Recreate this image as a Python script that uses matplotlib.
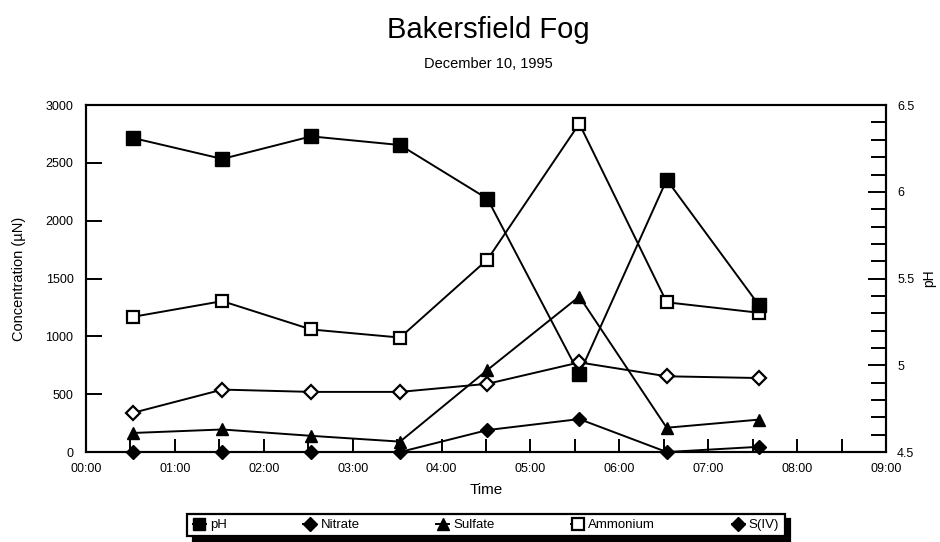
import matplotlib
matplotlib.use("Agg")
import matplotlib.pyplot as plt
from matplotlib.lines import Line2D
from matplotlib.ticker import MultipleLocator, FuncFormatter

plt.rcParams['font.family'] = ['Liberation Sans', 'DejaVu Sans']

# sample times (hh:mm) and measured values
times = ["00:32", "01:32", "02:32", "03:32", "04:31", "05:33", "06:32", "07:34"]
ph = [6.31, 6.19, 6.32, 6.27, 5.96, 4.95, 6.07, 5.35]
nitrate = [340, 540, 520, 520, 590, 775, 655, 640]
sulfate = [165, 195, 140, 90, 710, 1345, 210, 280]
ammonium = [1170, 1305, 1060, 990, 1665, 2840, 1295, 1205]
s_iv = [0, 0, 0, 0, 190, 285, 0, 45]

hours = [int(t[:2]) + int(t[3:]) / 60 for t in times]

fig = plt.figure(figsize=(9.4, 5.42), dpi=100)
ax = fig.add_axes([0.0915, 0.166, 0.851, 0.640])
ax2 = ax.twinx()

lw = 1.4
ax.plot(hours, nitrate, color='k', lw=lw, marker='D', ms=7, mfc='white', mec='k', mew=1.6, clip_on=False, zorder=3)
ax.plot(hours, sulfate, color='k', lw=lw, marker='^', ms=9, mfc='k', mec='k', clip_on=False, zorder=3)
ax.plot(hours, ammonium, color='k', lw=lw, marker='s', ms=8.5, mfc='white', mec='k', mew=1.6, clip_on=False, zorder=3)
ax.plot(hours, s_iv, color='k', lw=lw, marker='D', ms=7, mfc='k', mec='k', clip_on=False, zorder=3)
ax2.plot(hours, ph, color='k', lw=lw, marker='s', ms=9.5, mfc='k', mec='k', clip_on=False, zorder=3)

ax.set_xlim(0, 9)
ax.set_ylim(0, 3000)
ax2.set_ylim(4.5, 6.5)

ax.xaxis.set_major_locator(MultipleLocator(1))
ax.xaxis.set_minor_locator(MultipleLocator(0.5))
ax.xaxis.set_major_formatter(FuncFormatter(lambda v, p: f"{int(round(v)):02d}:00"))
ax.yaxis.set_major_locator(MultipleLocator(500))
ax2.yaxis.set_major_locator(MultipleLocator(0.5))
ax2.yaxis.set_minor_locator(MultipleLocator(0.1))
ax2.yaxis.set_major_formatter(FuncFormatter(lambda v, p: f"{v:g}"))

ax.tick_params(axis='x', which='both', direction='in', length=9.4, width=1.4, labelsize=9, pad=8, top=False)
ax.tick_params(axis='y', which='major', direction='in', length=11.5, width=1.4, labelsize=9, pad=9, right=False)
ax2.tick_params(axis='y', which='major', direction='in', length=13, width=1.4, labelsize=9, pad=8)
ax2.tick_params(axis='y', which='minor', direction='in', length=11, width=1.4)

for a in (ax, ax2):
    for s in a.spines.values():
        s.set_linewidth(1.5)

ax.set_xlabel("Time", fontsize=11, labelpad=6)
ax.set_ylabel("Concentration (\u00b5N)", fontsize=10.5, labelpad=14)
ax2.set_ylabel("pH", fontsize=10, labelpad=6)

fig.text(0.520, 1 - 30 / 542, "Bakersfield Fog", ha='center', va='center', fontsize=21)
fig.text(0.520, 1 - 64 / 542, "December 10, 1995", ha='center', va='center', fontsize=10.5)

handles = [
    Line2D([], [], color='k', lw=lw, marker='s', ms=9, mfc='k'),
    Line2D([], [], color='k', lw=lw, marker='D', ms=7, mfc='k'),
    Line2D([], [], color='k', lw=lw, marker='^', ms=9, mfc='k'),
    Line2D([], [], color='k', lw=lw, marker='s', ms=8.5, mfc='white', mew=1.6),
    Line2D([], [], color='k', lw=lw, marker='D', ms=7, mfc='k'),
]
labels = ["pH", "Nitrate", "Sulfate", "Ammonium", "S(IV)"]
leg = fig.legend(handles, labels, loc='center', bbox_to_anchor=(486 / 940, 1 - 525 / 542),
                 ncol=5, fontsize=9.5, frameon=True, fancybox=False, handlelength=1.0,
                 handletextpad=0.3, columnspacing=5.8, borderpad=0.4,
                 shadow={'color': 'black', 'alpha': 1, 'ox': 4, 'oy': -4})
leg.get_frame().set_edgecolor('k')
leg.get_frame().set_linewidth(1.6)

fig.savefig("out.png", dpi=100)
